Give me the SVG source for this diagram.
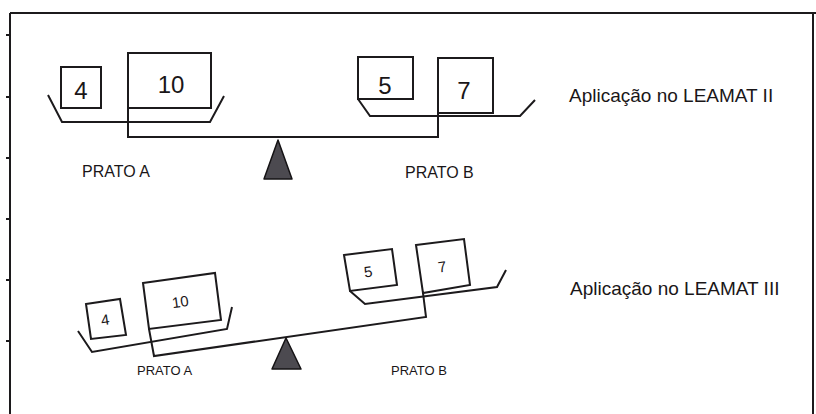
<svg xmlns="http://www.w3.org/2000/svg" width="816" height="414" viewBox="0 0 816 414">
<style>
.ln{fill:none;stroke:#1c1a1c;stroke-width:2;stroke-linejoin:miter}
.bx{fill:#fff;stroke:#1c1a1c;stroke-width:2}
.ful{fill:#4c4a50;stroke:#151315;stroke-width:1.5;stroke-linejoin:round}
.t{font-family:"Liberation Sans",Arial,sans-serif;fill:#1a1618}
.num{font-size:24px;text-anchor:middle}
.snum{font-size:15px;text-anchor:middle}
.lbl{font-size:16px}
.slbl{font-size:13px}
.app{font-size:19px}
</style>
<rect width="816" height="414" fill="#fff"/>
<g id="frame" class="ln">
<path d="M10,13 H816 M10,13 V414 M813,13 V414"/>
<path d="M6,35 H10 M6,97 H10 M6,158 H10 M6,219 H10 M6,280 H10 M6,341 H10"/>
</g>

<!-- Top scale -->
<g id="connectors">
<path class="ln" d="M128,108 V137 H438 V113"/>
<path class="ln" d="M149,329 L154,356 L426,317 L423,293"/>
</g>
<g id="panA1">
<path class="ln" d="M48,95 L62,122 H210 L224,96"/>
</g>
<g id="panB1">
<path class="ln" d="M358,99 L370,116 H520 L535,100"/>
</g>
<g id="box4a"><rect class="bx" x="61" y="67" width="40" height="41"/><text class="t num" x="81" y="99">4</text></g>
<g id="box10a"><rect class="bx" x="128" y="53" width="83" height="55"/><text class="t num" x="171" y="93">10</text></g>
<g id="box5a"><rect class="bx" x="358" y="57" width="55" height="42"/><text class="t num" x="385" y="94">5</text></g>
<g id="box7a"><rect class="bx" x="438" y="58" width="55" height="55"/><text class="t num" x="464" y="99">7</text></g>
<g id="fulcrum1"><path class="ful" d="M278,140 L292,179 H264 Z"/></g>
<g id="labels1">
<text class="t lbl" x="82" y="177">PRATO A</text>
<text class="t lbl" x="405" y="178">PRATO B</text>
<text class="t app" x="569" y="102">Aplicação no LEAMAT II</text>
</g>

<!-- Bottom scale -->
<g id="panA2"><path class="ln" d="M78,331 L92,352 L227,329 L232,307"/></g>
<g id="panB2"><path class="ln" d="M350,291 L365,304 L497,287 L506,270"/></g>
<g id="box4b"><path class="bx" d="M86,304 L120,299 L126,335 L91,339 Z"/><text class="t snum" transform="translate(106,325) rotate(-8)">4</text></g>
<g id="box10b"><path class="bx" d="M143,283 L215,273 L221,320 L149,329 Z"/><text class="t snum" transform="translate(181,307) rotate(-8)">10</text></g>
<g id="box5b"><path class="bx" d="M344,255 L392,249 L397,285 L350,291 Z"/><text class="t snum" transform="translate(369,277) rotate(-8)">5</text></g>
<g id="box7b"><path class="bx" d="M416,245 L464,239 L470,285 L423,293 Z"/><text class="t snum" transform="translate(443,272) rotate(-8)">7</text></g>
<g id="fulcrum2"><path class="ful" d="M286,338 L301,369 H272 Z"/></g>
<g id="labels2">
<text class="t slbl" x="137" y="375">PRATO A</text>
<text class="t slbl" x="391" y="375">PRATO B</text>
<text class="t app" x="570" y="295">Aplicação no LEAMAT III</text>
</g>
</svg>
